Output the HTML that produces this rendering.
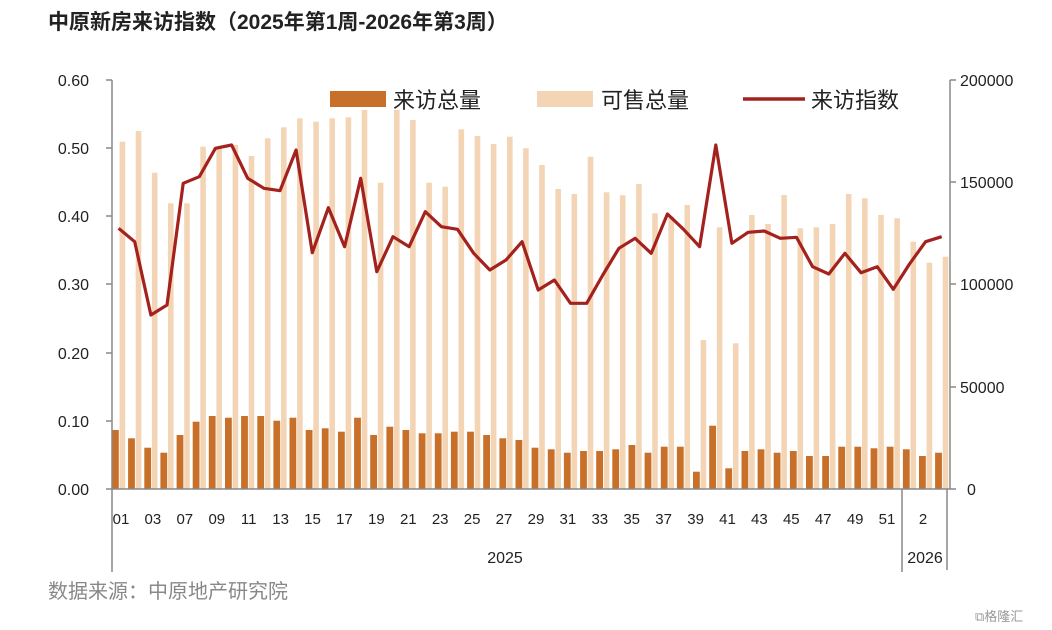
<!DOCTYPE html>
<html><head><meta charset="utf-8"><style>
html,body{margin:0;padding:0;background:#fff;width:1052px;height:630px;overflow:hidden;}
svg{display:block;font-family:"Liberation Sans","Noto Sans CJK SC",sans-serif;}
</style></head><body>
<svg width="1052" height="630" viewBox="0 0 1052 630" xmlns="http://www.w3.org/2000/svg">
<text x="48" y="29" font-size="21" font-weight="bold" fill="#222">中原新房来访指数（2025年第1周-2026年第3周）</text>
<g fill="#f3d5b5">
<rect x="119.6" y="141.7" width="5.6" height="347.3"/><rect x="135.7" y="131" width="5.6" height="358"/><rect x="151.9" y="172.7" width="5.6" height="316.3"/><rect x="168" y="203.3" width="5.6" height="285.7"/><rect x="184.2" y="203.3" width="5.6" height="285.7"/><rect x="200.3" y="146.7" width="5.6" height="342.3"/><rect x="216.4" y="146.7" width="5.6" height="342.3"/><rect x="232.6" y="145" width="5.6" height="344"/><rect x="248.7" y="156" width="5.6" height="333"/><rect x="264.9" y="138.3" width="5.6" height="350.7"/><rect x="281" y="127.3" width="5.6" height="361.7"/><rect x="297.1" y="118.3" width="5.6" height="370.7"/><rect x="313.3" y="121.7" width="5.6" height="367.3"/><rect x="329.4" y="118.3" width="5.6" height="370.7"/><rect x="345.6" y="117.3" width="5.6" height="371.7"/><rect x="361.7" y="110" width="5.6" height="379"/><rect x="377.8" y="182.7" width="5.6" height="306.3"/><rect x="394" y="110" width="5.6" height="379"/><rect x="410.1" y="120" width="5.6" height="369"/><rect x="426.3" y="182.7" width="5.6" height="306.3"/><rect x="442.4" y="186.7" width="5.6" height="302.3"/><rect x="458.5" y="129.3" width="5.6" height="359.7"/><rect x="474.7" y="136" width="5.6" height="353"/><rect x="490.8" y="144" width="5.6" height="345"/><rect x="507" y="136.7" width="5.6" height="352.3"/><rect x="523.1" y="148.3" width="5.6" height="340.7"/><rect x="539.2" y="165" width="5.6" height="324"/><rect x="555.4" y="189" width="5.6" height="300"/><rect x="571.5" y="194" width="5.6" height="295"/><rect x="587.7" y="156.7" width="5.6" height="332.3"/><rect x="603.8" y="192.3" width="5.6" height="296.7"/><rect x="619.9" y="195.3" width="5.6" height="293.7"/><rect x="636.1" y="184" width="5.6" height="305"/><rect x="652.2" y="213.3" width="5.6" height="275.7"/><rect x="668.4" y="216.7" width="5.6" height="272.3"/><rect x="684.5" y="205" width="5.6" height="284"/><rect x="700.6" y="340" width="5.6" height="149"/><rect x="716.8" y="227.3" width="5.6" height="261.7"/><rect x="732.9" y="343.3" width="5.6" height="145.7"/><rect x="749.1" y="215" width="5.6" height="274"/><rect x="765.2" y="224" width="5.6" height="265"/><rect x="781.3" y="195" width="5.6" height="294"/><rect x="797.5" y="228.3" width="5.6" height="260.7"/><rect x="813.6" y="227.3" width="5.6" height="261.7"/><rect x="829.8" y="224" width="5.6" height="265"/><rect x="845.9" y="194" width="5.6" height="295"/><rect x="862" y="198.3" width="5.6" height="290.7"/><rect x="878.2" y="215" width="5.6" height="274"/><rect x="894.3" y="218.3" width="5.6" height="270.7"/><rect x="910.5" y="241.7" width="5.6" height="247.3"/><rect x="926.6" y="262.7" width="5.6" height="226.3"/><rect x="942.7" y="256.7" width="5.6" height="232.3"/>
</g>
<g fill="#c8702a">
<rect x="112" y="430" width="6.8" height="100"/><rect x="128.1" y="438.3" width="6.8" height="100"/><rect x="144.3" y="447.7" width="6.8" height="100"/><rect x="160.4" y="452.7" width="6.8" height="100"/><rect x="176.6" y="435" width="6.8" height="100"/><rect x="192.7" y="421.7" width="6.8" height="100"/><rect x="208.8" y="416" width="6.8" height="100"/><rect x="225" y="417.7" width="6.8" height="100"/><rect x="241.1" y="416" width="6.8" height="100"/><rect x="257.3" y="416" width="6.8" height="100"/><rect x="273.4" y="420.7" width="6.8" height="100"/><rect x="289.5" y="417.7" width="6.8" height="100"/><rect x="305.7" y="430" width="6.8" height="100"/><rect x="321.8" y="428.3" width="6.8" height="100"/><rect x="338" y="431.7" width="6.8" height="100"/><rect x="354.1" y="417.7" width="6.8" height="100"/><rect x="370.2" y="435" width="6.8" height="100"/><rect x="386.4" y="426.7" width="6.8" height="100"/><rect x="402.5" y="430" width="6.8" height="100"/><rect x="418.7" y="433.3" width="6.8" height="100"/><rect x="434.8" y="433.3" width="6.8" height="100"/><rect x="450.9" y="431.7" width="6.8" height="100"/><rect x="467.1" y="431.7" width="6.8" height="100"/><rect x="483.2" y="435" width="6.8" height="100"/><rect x="499.4" y="438.3" width="6.8" height="100"/><rect x="515.5" y="440" width="6.8" height="100"/><rect x="531.6" y="447.7" width="6.8" height="100"/><rect x="547.8" y="449.3" width="6.8" height="100"/><rect x="563.9" y="452.7" width="6.8" height="100"/><rect x="580.1" y="451" width="6.8" height="100"/><rect x="596.2" y="451" width="6.8" height="100"/><rect x="612.3" y="449.3" width="6.8" height="100"/><rect x="628.5" y="445" width="6.8" height="100"/><rect x="644.6" y="452.7" width="6.8" height="100"/><rect x="660.8" y="446.7" width="6.8" height="100"/><rect x="676.9" y="446.7" width="6.8" height="100"/><rect x="693" y="471.7" width="6.8" height="100"/><rect x="709.2" y="425.7" width="6.8" height="100"/><rect x="725.3" y="468.3" width="6.8" height="100"/><rect x="741.5" y="451" width="6.8" height="100"/><rect x="757.6" y="449.3" width="6.8" height="100"/><rect x="773.7" y="452.7" width="6.8" height="100"/><rect x="789.9" y="451" width="6.8" height="100"/><rect x="806" y="456" width="6.8" height="100"/><rect x="822.2" y="456" width="6.8" height="100"/><rect x="838.3" y="446.7" width="6.8" height="100"/><rect x="854.4" y="446.7" width="6.8" height="100"/><rect x="870.6" y="448.3" width="6.8" height="100"/><rect x="886.7" y="446.7" width="6.8" height="100"/><rect x="902.9" y="449.3" width="6.8" height="100"/><rect x="919" y="456" width="6.8" height="100"/><rect x="935.1" y="452.7" width="6.8" height="100"/>
</g>
<rect x="0" y="489" width="1052" height="141" fill="#fff"/>
<polyline fill="none" stroke="#a3221e" stroke-width="3.2" stroke-linejoin="round" points="118.6,228.3 134.7,241.7 150.9,315 167,305 183.2,183.3 199.3,176.7 215.4,148.3 231.6,145 247.7,178.3 263.9,188.3 280,190.7 296.1,150 312.3,252.7 328.4,207.7 344.6,246.7 360.7,178.3 376.8,271.7 393,236.7 409.1,246.7 425.3,211.7 441.4,226.7 457.5,229.3 473.7,253.3 489.8,270 506,260 522.1,241.7 538.2,290 554.4,280 570.5,303.3 586.7,303.3 602.8,275 618.9,248.3 635.1,238.3 651.2,253.3 667.4,214 683.5,229.3 699.6,246.7 715.8,145 731.9,243.3 748.1,232.3 764.2,231 780.3,238.3 796.5,237.3 812.6,266.7 828.8,274 844.9,253.3 861,272.7 877.2,266.7 893.3,289.3 909.5,264 925.6,241.7 941.7,236.7"/>
<g stroke="#888" stroke-width="1.5">
<line x1="112" y1="80" x2="112" y2="572"/>
<line x1="950" y1="80" x2="950" y2="489"/>
<line x1="112" y1="489" x2="950" y2="489"/>
<line x1="902" y1="489" x2="902" y2="572"/>
<line x1="947" y1="489" x2="947" y2="570"/>
<line x1="106" y1="80" x2="112" y2="80"/><line x1="106" y1="148" x2="112" y2="148"/><line x1="106" y1="216" x2="112" y2="216"/><line x1="106" y1="284" x2="112" y2="284"/><line x1="106" y1="353" x2="112" y2="353"/><line x1="106" y1="421" x2="112" y2="421"/><line x1="106" y1="489" x2="112" y2="489"/>
<line x1="950" y1="80" x2="956" y2="80"/><line x1="950" y1="182" x2="956" y2="182"/><line x1="950" y1="284" x2="956" y2="284"/><line x1="950" y1="387" x2="956" y2="387"/><line x1="950" y1="489" x2="956" y2="489"/>
</g>
<g font-size="16" fill="#222" text-anchor="end">
<text x="89" y="86">0.60</text><text x="89" y="154">0.50</text><text x="89" y="222">0.40</text><text x="89" y="290">0.30</text><text x="89" y="359">0.20</text><text x="89" y="427">0.10</text><text x="89" y="495">0.00</text>
</g>
<g font-size="16" fill="#222" text-anchor="start">
<text x="960" y="86">200000</text><text x="960" y="188">150000</text><text x="960" y="290">100000</text><text x="960" y="393">50000</text><text x="967" y="495">0</text>
</g>
<g font-size="15" fill="#222" text-anchor="middle">
<text x="121" y="524">01</text><text x="152.9" y="524">03</text><text x="184.8" y="524">07</text><text x="216.8" y="524">09</text><text x="248.7" y="524">11</text><text x="280.6" y="524">13</text><text x="312.5" y="524">15</text><text x="344.4" y="524">17</text><text x="376.4" y="524">19</text><text x="408.3" y="524">21</text><text x="440.2" y="524">23</text><text x="472.1" y="524">25</text><text x="504" y="524">27</text><text x="536" y="524">29</text><text x="567.9" y="524">31</text><text x="599.8" y="524">33</text><text x="631.7" y="524">35</text><text x="663.6" y="524">37</text><text x="695.6" y="524">39</text><text x="727.5" y="524">41</text><text x="759.4" y="524">43</text><text x="791.3" y="524">45</text><text x="823.2" y="524">47</text><text x="855.2" y="524">49</text><text x="887" y="524">51</text><text x="923" y="524">2</text>
</g>
<text x="505" y="563" font-size="16" fill="#222" text-anchor="middle">2025</text>
<text x="925" y="563" font-size="16" fill="#222" text-anchor="middle">2026</text>
<rect x="330" y="91" width="56" height="16" fill="#c8702a"/>
<text x="393" y="108" font-size="22" fill="#222">来访总量</text>
<rect x="537" y="91" width="56" height="16" fill="#f3d5b5"/>
<text x="601" y="108" font-size="22" fill="#222">可售总量</text>
<line x1="743" y1="99" x2="805" y2="99" stroke="#a3221e" stroke-width="3.5"/>
<text x="811" y="108" font-size="22" fill="#222">来访指数</text>
<text x="48" y="598" font-size="20" fill="#888">数据来源：中原地产研究院</text>
<text x="975" y="621" font-size="13" fill="#999">⧉格隆汇</text>
</svg>
</body></html>
